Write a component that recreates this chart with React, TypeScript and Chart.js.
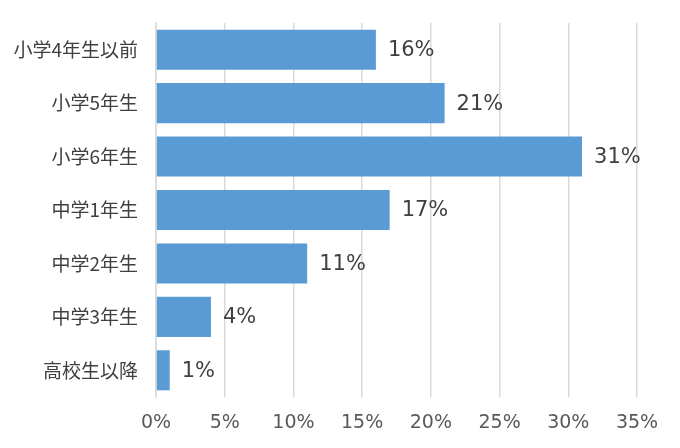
import React, { useEffect, useRef } from "react";
import { Chart, registerables } from "chart.js";

Chart.register(...registerables);

const categories = ["小学4年生以前", "小学5年生", "小学6年生", "中学1年生", "中学2年生", "中学3年生", "高校生以降"];
const values = [16, 21, 31, 17, 11, 4, 1];
const valueLabels = ["16%", "21%", "31%", "17%", "11%", "4%", "1%"];

const FONT = "'DejaVu Sans', 'Noto Sans CJK JP', sans-serif";
const CJK = "'Noto Sans CJK JP', 'DejaVu Sans', sans-serif";

const valueLabelPlugin = {
  id: "valueLabels",
  afterDatasetsDraw(chart: any) {
    const ctx = chart.ctx;
    const meta = chart.getDatasetMeta(0);
    ctx.save();
    ctx.font = `21px ${FONT}`;
    ctx.fillStyle = "#404040";
    ctx.textAlign = "left";
    ctx.textBaseline = "middle";
    meta.data.forEach((bar: any, i: number) => {
      ctx.fillText(valueLabels[i], bar.x + 12, bar.y + 1);
    });
    ctx.restore();
  },
};

export default function App() {
  const ref = useRef<HTMLCanvasElement>(null);
  useEffect(() => {
    document.body.style.margin = "0";
    const chart = new Chart(ref.current!, {
      type: "bar",
      data: {
        labels: categories,
        datasets: [
          {
            data: values,
            backgroundColor: "#5B9BD5",
            barPercentage: 0.75,
            categoryPercentage: 1,
          },
        ],
      },
      plugins: [valueLabelPlugin],
      options: {
        indexAxis: "y",
        animation: false,
        responsive: false,
        layout: { padding: { left: 0, right: 43, top: 23, bottom: 0 } },
        plugins: { legend: { display: false }, tooltip: { enabled: false } },
        scales: {
          x: {
            min: 0,
            max: 35,
            ticks: {
              stepSize: 5,
              callback: (v: any) => v + "%",
              color: "#595959",
              font: { size: 19, family: FONT },
              padding: 15,
            },
            grid: { color: "#D9D9D9", lineWidth: 1.5, drawTicks: false },
            border: { display: false },
            afterFit: (s: any) => {
              s.height = 51;
            },
          },
          y: {
            ticks: {
              color: "#404040",
              font: { size: 19, family: CJK },
              padding: 18,
            },
            grid: { display: false, drawTicks: false },
            border: { display: true, color: "#D9D9D9", width: 1.5 },
            afterFit: (s: any) => {
              s.width = 156;
              s.paddingTop = 0;
              s.paddingBottom = 0;
            },
          },
        },
      },
    });
    return () => chart.destroy();
  }, []);
  return (
    <div style={{ position: "fixed", left: 0, top: 0, width: 680, height: 448 }}>
      <canvas ref={ref} width={680} height={448} />
    </div>
  );
}
